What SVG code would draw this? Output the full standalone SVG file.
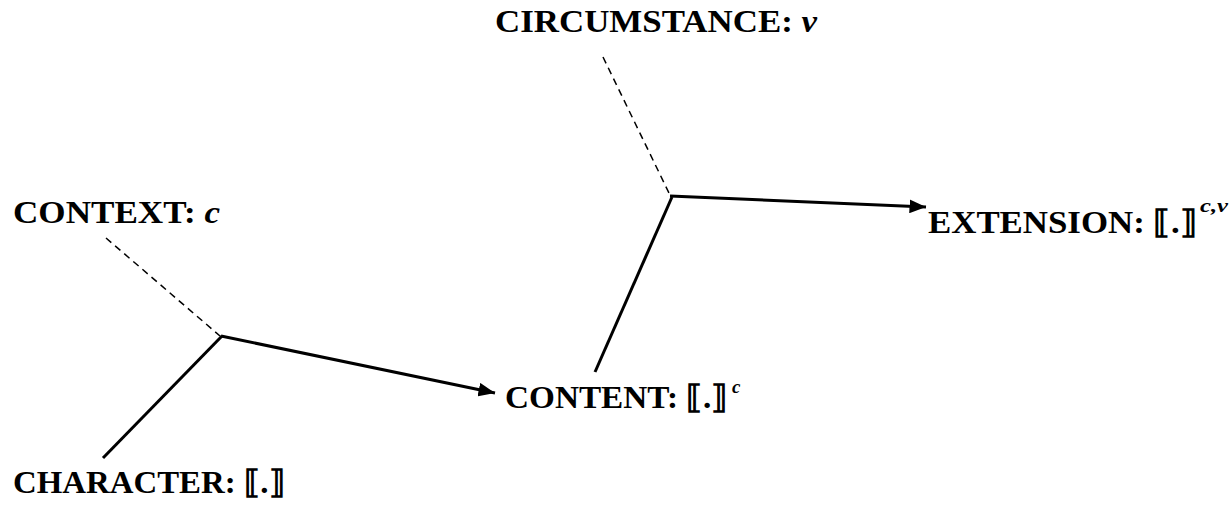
<svg xmlns="http://www.w3.org/2000/svg" width="1232" height="510" viewBox="0 0 1232 510">
<style>
.t{font-family:"Liberation Serif","DejaVu Serif",serif;font-weight:bold;font-size:32px;fill:#000}
.i{font-style:italic}
.s{font-family:"Liberation Serif","DejaVu Serif",serif;font-weight:bold;font-size:19px;font-style:italic;fill:#000}
.ln{stroke:#000;stroke-width:3;fill:none}
.ds{stroke:#000;stroke-width:1.5;stroke-dasharray:7,5;fill:none}
</style>
<defs>
<marker id="ah" viewBox="0 0 10 10" refX="10" refY="5" markerWidth="5.5" markerHeight="4.6" preserveAspectRatio="none" orient="auto" markerUnits="strokeWidth">
<path d="M0,0 L10,5 L0,10 z" fill="#000"/>
</marker>
</defs>
<g id="circumstance"><text class="t" x="495" y="32" textLength="322" lengthAdjust="spacingAndGlyphs">CIRCUMSTANCE: <tspan class="i">v</tspan></text></g>
<g id="context"><text class="t" x="13" y="223" textLength="207" lengthAdjust="spacingAndGlyphs">CONTEXT: <tspan class="i">c</tspan></text></g>
<g id="extension"><text class="t" x="928" y="233" textLength="269" lengthAdjust="spacingAndGlyphs">EXTENSION: ⟦.⟧</text><text class="s" x="1200" y="212" textLength="28" lengthAdjust="spacingAndGlyphs">c,v</text></g>
<g id="content"><text class="t" x="505" y="408" textLength="223" lengthAdjust="spacingAndGlyphs">CONTENT: ⟦.⟧</text><text class="s" x="732" y="393">c</text></g>
<g id="character"><text class="t" x="13" y="493" textLength="272" lengthAdjust="spacingAndGlyphs">CHARACTER: ⟦.⟧</text></g>
<g id="connectors">
<line class="ds" x1="106" y1="238" x2="220" y2="336"/>
<line class="ln" x1="222" y1="336" x2="103" y2="458"/>
<line class="ln" x1="221" y1="336" x2="495" y2="393" marker-end="url(#ah)"/>
<line class="ds" x1="603" y1="57" x2="669" y2="193"/>
<line class="ln" x1="672" y1="197" x2="595" y2="372"/>
<line class="ln" x1="670" y1="196" x2="926" y2="207" marker-end="url(#ah)"/>
</g>
</svg>
